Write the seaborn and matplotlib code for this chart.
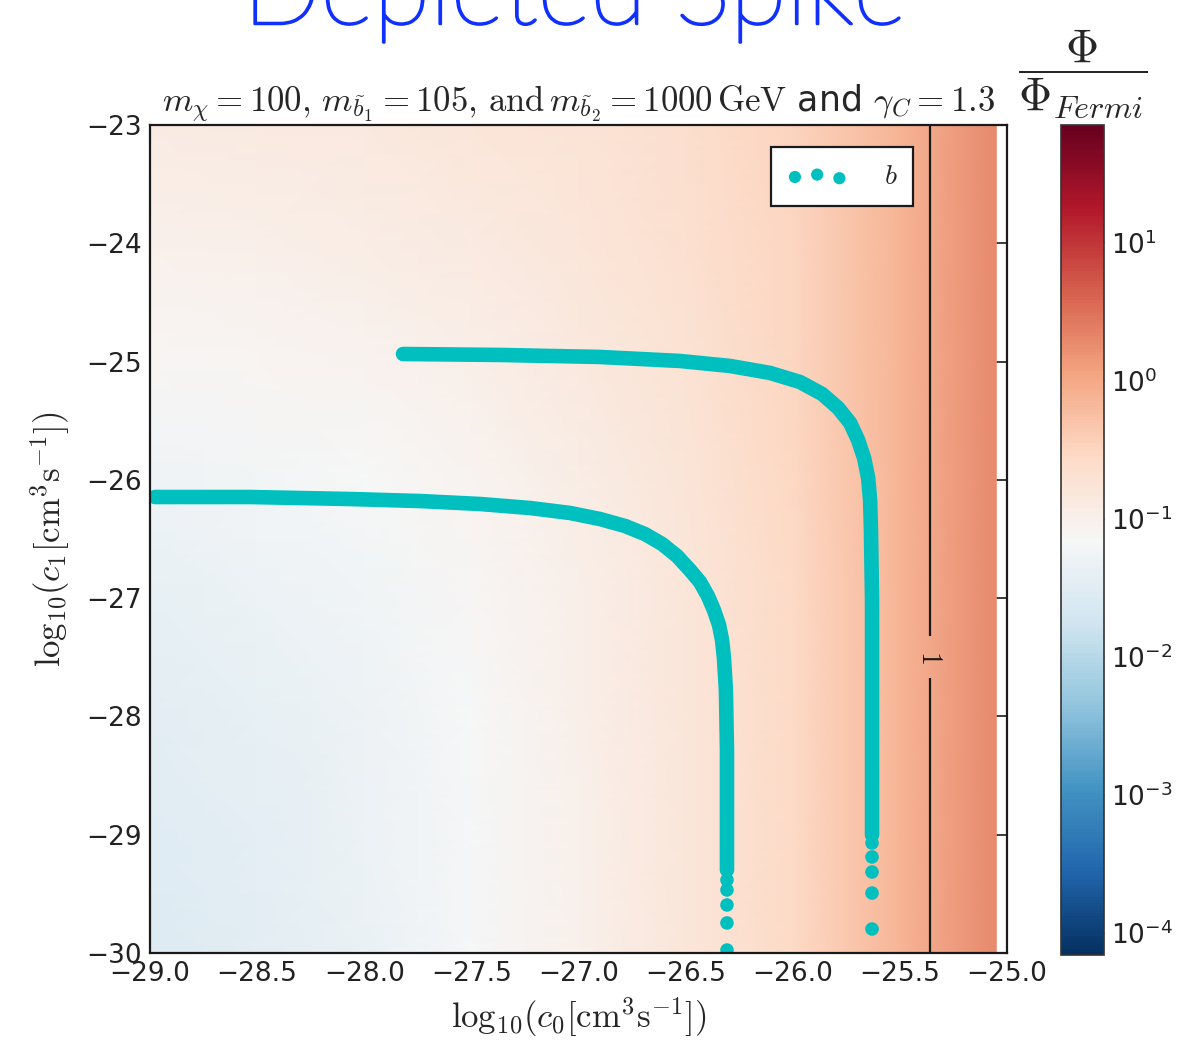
import numpy as np
import matplotlib
matplotlib.use("Agg")
import matplotlib.pyplot as plt
import matplotlib.patheffects as pe
from matplotlib.colors import LogNorm
from matplotlib.ticker import NullLocator, MultipleLocator
import seaborn as sns

# ---------------- data ----------------
# heat-map field: log10(Phi/Phi_Fermi) on a coarse grid
grid_log_c0 = [-29.0, -28.5, -28.0, -27.5, -27.0, -26.5, -26.0, -25.5, -25.05]
grid_log_c1 = [-30.0, -29.0, -28.0, -27.0, -26.0, -25.0, -24.0, -23.0]
log_ratio = [
    [-1.56, -1.47, -1.35, -1.19, -1.01, -0.80, -0.56, -0.13, 0.28],  # c1=-30
    [-1.53, -1.45, -1.33, -1.18, -1.00, -0.80, -0.56, -0.13, 0.28],  # -29
    [-1.48, -1.41, -1.30, -1.16, -0.99, -0.79, -0.56, -0.13, 0.28],  # -28
    [-1.40, -1.34, -1.25, -1.13, -0.97, -0.78, -0.55, -0.13, 0.28],  # -27
    [-1.28, -1.23, -1.16, -1.07, -0.93, -0.76, -0.54, -0.13, 0.28],  # -26
    [-1.12, -1.09, -1.04, -0.97, -0.86, -0.72, -0.52, -0.13, 0.28],  # -25
    [-1.00, -0.98, -0.94, -0.88, -0.80, -0.68, -0.50, -0.13, 0.28],  # -24
    [-0.90, -0.88, -0.85, -0.80, -0.74, -0.64, -0.48, -0.13, 0.28],  # -23
]
cbar_log_min, cbar_log_max = -4.16, 1.85

# branch 1 (lower curve), dense part
b1_c0 = [-28.977, -28.533, -28.066, -27.740, -27.460, -27.226, -27.040,
         -26.900, -26.783, -26.690, -26.610, -26.540, -26.480, -26.433,
         -26.396, -26.368, -26.344, -26.330, -26.321, -26.312, -26.307,
         -26.307]
b1_c1 = [-26.145, -26.145, -26.162, -26.179, -26.204, -26.238, -26.280,
         -26.331, -26.390, -26.458, -26.542, -26.644, -26.762, -26.863,
         -26.982, -27.100, -27.227, -27.354, -27.506, -27.776, -28.284,
         -29.298]
# branch 1, sparse tail points
b1_tail_c0 = [-26.307, -26.307, -26.307, -26.307, -26.307]
b1_tail_c1 = [-29.383, -29.467, -29.594, -29.746, -29.975]

# branch 2 (upper curve), dense part
b2_c0 = [-27.819, -27.366, -26.900, -26.526, -26.293, -26.106, -25.966,
         -25.863, -25.788, -25.732, -25.695, -25.667, -25.648, -25.639,
         -25.635, -25.630, -25.630]
b2_c1 = [-24.936, -24.944, -24.961, -24.995, -25.037, -25.096, -25.173,
         -25.274, -25.392, -25.519, -25.663, -25.815, -25.984, -26.170,
         -26.424, -27.016, -29.002]
# branch 2, sparse tail points
b2_tail_c0 = [-25.630, -25.630, -25.630, -25.630, -25.630]
b2_tail_c1 = [-29.070, -29.188, -29.315, -29.493, -29.797]

contour_level_log = 0.0          # Phi/Phi_Fermi = 1
legend_label = r"$b$"

# ---------------- styling ----------------
sns.set_theme(style="white")
plt.rcParams["font.family"] = ["DejaVu Sans"]
plt.rcParams["mathtext.fontset"] = "cm"
plt.rcParams["axes.unicode_minus"] = True

W, H = 1192, 1046
fig = plt.figure(figsize=(W / 100, H / 100), dpi=100)
ax = fig.add_axes([150 / W, 1 - 953 / H, (1007 - 150) / W, (953 - 125) / H])
cax = fig.add_axes([1061 / W, 1 - 955 / H, (1104 - 1061) / W, (955 - 125) / H])

X, Y = np.meshgrid(np.array(grid_log_c0), np.array(grid_log_c1))
LZ = np.array(log_ratio)
norm = LogNorm(vmin=10 ** cbar_log_min, vmax=10 ** cbar_log_max)
mesh = ax.pcolormesh(X, Y, 10 ** LZ, cmap="RdBu_r", norm=norm,
                     shading="gouraud", rasterized=True)

cs = ax.contour(X, Y, LZ, levels=[contour_level_log], colors="k",
                linewidths=1.6)
ax.clabel(cs, fmt={contour_level_log: r"$1$"}, manual=[(-25.36, -27.5)],
          fontsize=20, inline=True, inline_spacing=14)

teal = (0.0, 0.75, 0.75)
for bx, by in ((b1_c0, b1_c1), (b2_c0, b2_c1)):
    sns.lineplot(x=bx, y=by, sort=False, estimator=None, color=teal,
                 lw=10.5, solid_capstyle="round", solid_joinstyle="round",
                 ax=ax, legend=False)
sns.scatterplot(x=b1_tail_c0 + b2_tail_c0, y=b1_tail_c1 + b2_tail_c1,
                color=teal, s=95, edgecolor="none", linewidth=0, ax=ax,
                legend=False)
sc = ax.collections[-1]

ax.set_xlim(-29, -25)
ax.set_ylim(-30, -23)
ax.xaxis.set_major_locator(MultipleLocator(0.5))
ax.yaxis.set_major_locator(MultipleLocator(1))
for sp in ax.spines.values():
    sp.set_color("k")
    sp.set_linewidth(1.6)
ax.tick_params(direction="in", top=True, right=True, length=10, width=1.2,
               color="k", labelsize=19, labelcolor="#222222", pad=6)

ax.set_xlabel(r"$\mathrm{log}_{10}(c_0[\mathrm{cm}^3\mathrm{s}^{-1}])$",
              fontsize=25, labelpad=6)
ax.set_ylabel(r"$\mathrm{log}_{10}(c_1[\mathrm{cm}^3\mathrm{s}^{-1}])$",
              fontsize=25, labelpad=10)
ax.set_title(r"$m_\chi = 100,\, m_{\tilde{b}_1} = 105,\, \mathrm{and}\, "
             r"m_{\tilde{b}_2} = 1000\,\mathrm{GeV}$ and $\gamma_C = 1.3$",
             fontsize=25, pad=9)

leg = ax.legend(handles=[sc], labels=[legend_label], loc="upper right",
                bbox_to_anchor=(0.890, 0.9734), scatterpoints=3,
                scatteryoffsets=[0.375, 0.5, 0.3125], fontsize=20,
                frameon=True, fancybox=False, framealpha=1.0,
                edgecolor="k", handlelength=2.2, handletextpad=1.3,
                borderpad=0.55, borderaxespad=0, markerscale=0.9)
leg.get_frame().set_linewidth(1.6)

cb = fig.colorbar(mesh, cax=cax)
cb.ax.yaxis.set_minor_locator(NullLocator())
cb.ax.tick_params(direction="in", length=8, width=1.0, labelsize=19,
                  labelcolor="#222222", pad=5, color="#333333")
cb.outline.set_edgecolor("#333333")
cb.outline.set_linewidth(1.2)
cb.ax.set_title(r"$\dfrac{\Phi}{\Phi_{Fermi}}$", fontsize=33, pad=32)

fig.text(0.482, 1 - 24 / H, "Depleted Spike", color="#1030ff",
         fontsize=74, ha="center", va="baseline",
         fontfamily=["Lato", "DejaVu Sans"], fontweight="light",
         path_effects=[pe.withStroke(linewidth=1.8, foreground="#1030ff")])

fig.savefig("out.png", dpi=100)
